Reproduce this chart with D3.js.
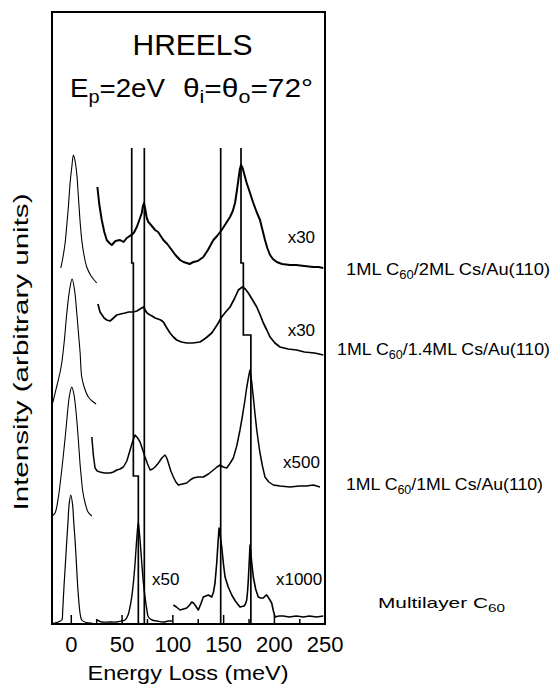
<!DOCTYPE html>
<html><head><meta charset="utf-8">
<script src="https://cdn.jsdelivr.net/npm/d3@7"></script>
<style>
body{margin:0;background:#fff}
svg{display:block}
text{font-family:"Liberation Sans",Arial,Helvetica,sans-serif;fill:#000}
</style>
</head><body>
<svg id="c" width="554" height="698"></svg>
<script>
// ---------- data (energy loss meV, intensity arb. units incl. offset) ----------
const xTickLabels = [0, 50, 100, 150, 200, 250];
const xMinorTicks = [25, 75, 125, 175, 225];

const s1Elastic = [[-9.8,356],[-7.5,368],[-5.6,381],[-4,398],[-2.4,417],[-0.6,442],[1.0,457],[2.6,469],[4.2,463],[5.9,450],[7.5,427],[9.2,402],[10.8,384],[13,369],[15.7,357],[20,348],[25.6,341]];
const s1Loss = [[26.2,437],[28,420],[30.5,404],[33,392],[35.4,384],[38,381],[40.4,379],[44,383],[48.5,384],[52,382],[55.1,386],[58,388],[60,389],[62.5,392],[65,397],[67.5,404],[69.9,411],[71,418],[72.1,421],[73.5,414],[74.8,406],[76.4,402],[79,399],[83,394],[86,392],[91.1,384],[95,380],[99.4,374],[103,369],[107.6,364],[111,362],[114.2,361],[117,360],[120.7,362],[125,363],[130.5,367],[135,374],[140.4,384],[144,388],[148.6,394],[153,401],[156.8,407],[159.5,413],[161.7,421],[163.5,433],[165,444],[166.5,455],[167.6,459],[169.2,456],[171,449],[173.2,441],[176.5,431],[179.7,421],[183,412],[186.3,404],[189,393],[191.2,384],[193.5,376],[196.2,369],[199,365],[202.8,362],[208,360],[215.8,359],[222,359],[230,358],[238.8,357],[244,357],[248.6,356]];

const s2Elastic = [[-18.5,219],[-17.1,224],[-13.5,239],[-10.5,252],[-8.9,261],[-6.5,282],[-3.9,311],[-1.2,334],[1.3,345],[3.7,334],[5.9,311],[7.8,288],[9.2,271],[10.8,247],[13.5,236],[17.3,227],[21,223],[24.9,220]];
const s2Loss = [[26.7,320],[28.8,312],[30.8,309],[32.8,306],[35.5,304],[38.7,303],[42,306],[45.3,309],[49,310],[53.4,311],[57,312],[61.6,312],[65,313],[68.2,315],[71.5,317],[73.2,314],[75.1,311],[78,309],[80,308],[83,306],[85.9,305],[88.5,304],[91.1,302],[94,297],[97.7,291],[101,287],[104.3,284],[109,282],[114.2,281],[120,281],[127.3,282],[133,286],[138.8,291],[144,299],[148.6,307],[152.5,312],[156.8,317],[161,325],[165,334],[168.9,337],[171.8,335],[174.8,331],[179,324],[183.1,317],[186.5,309],[189.6,301],[193,294],[196.2,287],[201,281],[206,277],[214,275],[222.4,274],[230,272],[240,271],[248.6,269]];

const s3Elastic = [[-18.5,108],[-15.5,111],[-12.2,127],[-10.5,140],[-8.9,154],[-7.3,169],[-5.5,187],[-3.9,204],[-2.5,219],[-1.2,229],[1.0,237],[3.2,229],[4.6,218],[5.9,204],[7.6,182],[9.2,159],[10.5,145],[11.6,134],[14.1,121],[17.0,112],[20.7,108]];
const s3Loss = [[20.7,187],[22.3,168],[23.9,156],[26,153],[28.8,152],[33,151],[38.7,151],[42,152],[45.3,154],[48.5,155],[51.8,157],[55.2,163],[58.4,174],[61,183],[63.3,189],[65.8,186],[68.2,182],[70.5,175],[73.1,167],[75.6,160],[78.1,154],[80.5,155],[83.0,157],[86.3,161],[89.6,166],[92.8,169],[94.5,166],[96.1,161],[98.5,153],[101.0,147],[103.5,142],[105.9,139],[110,140],[114.2,141],[117.5,144],[120.7,146],[125,147],[130.5,147],[135.5,150],[140.4,154],[144,157],[147.0,159],[150,157],[153.5,156],[157,161],[160.0,166],[163.4,178],[166.6,194],[169,208],[171.5,224],[173,235],[174.5,244],[175.6,250],[176.5,254],[178,243],[179.7,227],[181.4,210],[183.1,194],[184.7,182],[186.3,171],[188.7,158],[191.2,147],[195,142],[199.4,139],[206,138],[215.8,137],[225,138],[232,138],[238.8,139],[245.4,137]];

const s4Elastic = [[-18.4,0.5],[-12.5,2],[-8.9,4],[-8.0,13],[-7.3,26],[-6.6,39],[-5.2,62],[-3.9,84],[-2.7,103],[-1.7,119],[0,129],[1.8,119],[2.9,102],[4.2,84],[5.5,61],[6.7,39],[7.5,28],[8.2,19],[9.4,9],[10.8,4],[15.1,1.5],[21.0,1]];
const s4LossX50 = [[25.6,4],[28,3],[30.5,2],[38,2],[45.3,2],[50,3],[53.4,4],[56.4,9],[58.3,17],[60.0,27],[61.7,42],[63.3,61],[64.7,82],[65.9,97],[66.5,101],[67.3,94],[68.2,84],[69.9,61],[71.5,41],[73.1,27],[74.8,15],[76.4,7],[80.0,4],[85,3],[91.1,2],[96,3],[99.7,3]];
const s4LossX1000 = [[101.0,19],[104,17],[107.6,14],[111,15],[114.2,16],[117,19],[119.1,22],[120.8,21],[122.3,19],[125.6,14],[128,20],[130.5,27],[133,28],[135.4,29],[138.8,27],[140.5,32],[142.0,41],[143.7,61],[145,82],[146.0,96],[147.2,88],[148.6,77],[150.3,60],[151.9,47],[155,37],[158.5,29],[162,23],[166.6,17],[170.6,18],[172,20],[173.2,24],[174.1,33],[174.8,44],[175.7,62],[176.5,79],[178.1,62],[179.7,47],[182,35],[184.6,27],[187,26],[189.6,26],[191.3,28],[192.9,29],[195.5,25],[197.8,21],[199.5,13],[201.1,7],[205,8],[209.3,8],[215,7],[222,8],[229.0,7],[235,8],[242,7],[248.6,8]];

// stepped guide lines [energy, intensity]
const guide1 = [[60.0,476],[60.0,361],[61.6,361],[61.6,148],[66.5,148],[66.5,0]];
const guide2 = [[72.4,476],[72.4,0]];
const guide3 = [[147.6,476],[147.6,0]];
const guide4 = [[167.6,476],[167.6,361],[169.9,361],[169.9,289],[177.3,289],[177.3,0]];

const factorLabels = [
  {t:"x30", e:213.5, v:381},
  {t:"x30", e:213.5, v:288},
  {t:"x500", e:209, v:156},
  {t:"x50", e:80, v:39},
  {t:"x1000", e:202, v:39}
];
const sampleLabels = [
  {pre:"1ML C", sub:"60", post:"/2ML Cs/Au(110)", v:349},
  {pre:"1ML C", sub:"60", post:"/1.4ML Cs/Au(110)", v:269},
  {pre:"1ML C", sub:"60", post:"/1ML Cs/Au(110)", v:134},
  {pre:"Multilayer C", sub:"60", post:"", v:16}
];

// ---------- drawing ----------
const svg = d3.select("#c");
const L = 52, R = 325, T = 12, B = 624;
const x = d3.scaleLinear().domain([-18.5, 250.3]).range([L, R]);
const y = d3.scaleLinear().domain([0, 612]).range([B, T]);

svg.append("defs").append("clipPath").attr("id","clip")
  .append("rect").attr("x",L).attr("y",T).attr("width",R-L).attr("height",B-T);

const g = svg.append("g").attr("clip-path","url(#clip)");
const smooth = d3.line().x(d=>x(d[0])).y(d=>y(d[1])).curve(d3.curveCatmullRom.alpha(0.5));
const lin = d3.line().x(d=>x(d[0])).y(d=>y(d[1]));

function curve(data, w, gen){
  g.append("path").attr("d",(gen||smooth)(data)).attr("fill","none")
   .attr("stroke","#000").attr("stroke-width",w).attr("stroke-linejoin","round");
}
curve(s1Elastic,1.1); curve(s2Elastic,1.1); curve(s3Elastic,1.1); curve(s4Elastic,1.2);
curve(s1Loss,2.0,lin); curve(s2Loss,1.7,lin); curve(s3Loss,1.5,lin);
curve(s4LossX50,1.4); curve(s4LossX1000,1.6,lin);
[guide1,guide2,guide3,guide4].forEach(gd=>{
  g.append("path").attr("d",lin(gd)).attr("fill","none").attr("stroke","#000").attr("stroke-width",1.7);
});

// ticks (inward)
svg.append("g").attr("transform",`translate(0,${B})`)
  .call(d3.axisTop(x).tickValues(xTickLabels).tickSize(9).tickFormat(""))
  .call(s=>{s.select(".domain").remove(); s.selectAll("line").attr("stroke-width",1.5);});
svg.append("g").attr("transform",`translate(0,${B})`)
  .call(d3.axisTop(x).tickValues(xMinorTicks).tickSize(5).tickFormat(""))
  .call(s=>{s.select(".domain").remove(); s.selectAll("line").attr("stroke-width",1.5);});
// tick labels
const ax = svg.append("g").attr("transform",`translate(0,${B})`)
  .call(d3.axisBottom(x).tickValues(xTickLabels).tickSize(0).tickPadding(12).tickFormat(d3.format("d")));
ax.select(".domain").remove();
ax.selectAll("text").style("font-size","22px").style("font-family",'"Liberation Sans",Arial,sans-serif');

// frame
svg.append("rect").attr("x",L).attr("y",T).attr("width",R-L).attr("height",B-T)
  .attr("fill","none").attr("stroke","#000").attr("stroke-width",2);

// axis titles
svg.append("text").attr("x",188).attr("y",680).attr("text-anchor","middle")
  .style("font-size","21px").attr("textLength",201).attr("lengthAdjust","spacingAndGlyphs")
  .text("Energy Loss (meV)");
svg.append("text").attr("transform","translate(28,352) rotate(-90)").attr("text-anchor","middle")
  .style("font-size","21px").attr("textLength",317).attr("lengthAdjust","spacingAndGlyphs")
  .text("Intensity (arbitrary units)");

// title
svg.append("text").attr("x",192.5).attr("y",55).attr("text-anchor","middle")
  .style("font-size","30px").text("HREELS");
const t2 = svg.append("text").attr("x",70).attr("y",97).style("font-size","25px")
  .attr("textLength",95).attr("lengthAdjust","spacingAndGlyphs");
t2.append("tspan").text("E");
t2.append("tspan").attr("dy",6).style("font-size","18px").text("p");
t2.append("tspan").attr("dy",-6).text("=2eV");
const t3 = svg.append("text").attr("x",183).attr("y",97).style("font-size","25px")
  .attr("textLength",130).attr("lengthAdjust","spacingAndGlyphs");
t3.append("tspan").text("θ");
t3.append("tspan").attr("dy",6).style("font-size","18px").text("i");
t3.append("tspan").attr("dy",-6).text("=θ");
t3.append("tspan").attr("dy",6).style("font-size","18px").text("o");
t3.append("tspan").attr("dy",-6).text("=72°");

// factor labels
factorLabels.forEach(f=>{
  svg.append("text").attr("x",x(f.e)).attr("y",y(f.v)).style("font-size","17px").text(f.t);
});
// sample labels
const sampleX = [346, 337, 346, 378];
const sampleW = [204, 213, 197, 127];
sampleLabels.forEach((s,i)=>{
  const tx = svg.append("text").attr("x", sampleX[i]).attr("y",y(s.v))
    .style("font-size", i===3?"15px":"17px")
    .attr("textLength", sampleW[i]).attr("lengthAdjust","spacingAndGlyphs");
  tx.append("tspan").text(s.pre);
  tx.append("tspan").attr("dy",4).style("font-size", i===3?"11px":"12px").text(s.sub);
  if(s.post) tx.append("tspan").attr("dy",-4).text(s.post);
});
</script>
</body></html>
